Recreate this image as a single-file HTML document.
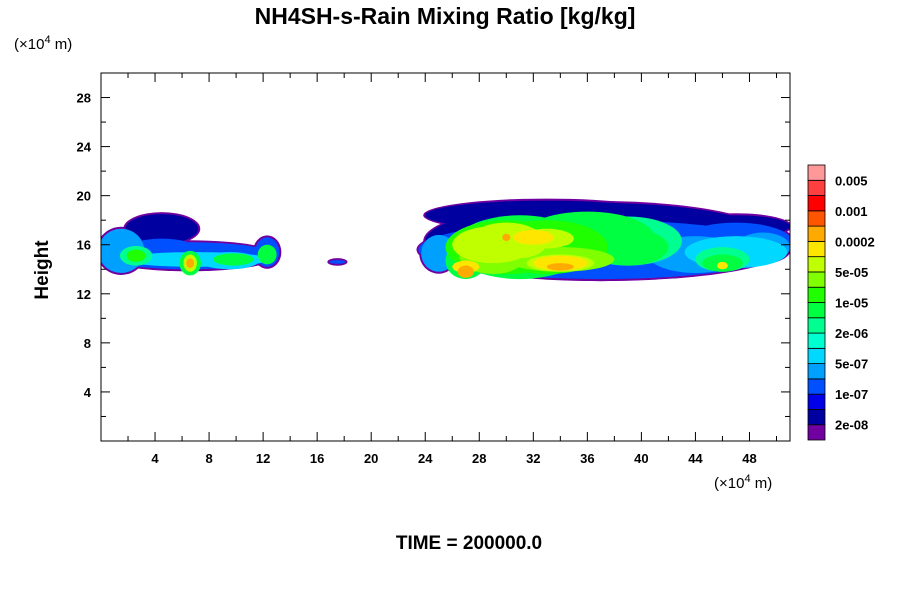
<!DOCTYPE html>
<html><head><meta charset="utf-8"><style>
body{margin:0;background:#fff;}
svg{display:block;font-family:"Liberation Sans",sans-serif;}
</style></head><body>
<svg id="c" width="900" height="600" viewBox="0 0 900 600">
<text x="445" y="24" text-anchor="middle" font-size="23" font-weight="bold">NH4SH-s-Rain Mixing Ratio [kg/kg]</text>
<text x="14" y="49" font-size="15">(×10<tspan dy="-6" font-size="11">4</tspan><tspan dy="6"> m)</tspan></text>
<text x="714" y="488" font-size="15">(×10<tspan dy="-6" font-size="11">4</tspan><tspan dy="6"> m)</tspan></text>
<text x="48" y="270" font-size="19" font-weight="bold" text-anchor="middle" transform="rotate(-90 48 270)">Height</text>
<text x="469" y="549" font-size="19" font-weight="bold" text-anchor="middle">TIME = 200000.0</text>
<g id="field"></g>
<g id="axes"></g>
<g id="cbar"></g>
</svg>
<script>
const xTicks=[4,8,12,16,20,24,28,32,36,40,44,48];
const yTicks=[4,8,12,16,20,24,28];
const levelColors=["#7000a0","#0000a0","#0000e8","#0050ff","#00a0ff","#00d8ff","#00ffd0","#00ff90","#00ff40","#20ff00","#80ff00","#c0ff00","#ffe600","#ffaa00","#ff5500","#ff0000","#ff4040","#ff9999"];
const cbarLabels=["0.005","0.001","0.0002","5e-05","1e-05","2e-06","5e-07","1e-07","2e-08"];
// blobs: x center, y center, x half-width, y half-height, level index
const blobX=[1.5,4.5,4.5,2.6,2.6,6.6,6.6,6.6,9.5,9.8,12.3,12.3,17.5,6.5,7,
 37,37,33,47,47,25,27,31,36,39,44,47,49, 30,33,29,34,39,46,
 29,31,34,46, 30,34,27,33,31,
 32,27,34,30,46];
const blobY=[15.5,17.3,15.3,15.1,15.1,14.5,14.5,14.5,14.7,14.8,15.4,15.2,14.6,15.1,14.8,
 16.3,15.6,18.4,16.2,17.5,15.3,14.7,15.8,16.5,16.3,15.2,15.4,15.8, 15.8,15.8,15.2,14.8,15.8,14.8,
 16,16.2,14.5,14.5, 16.6,14.5,14.2,16.5,15.2,
 16.6,13.8,14.2,16.6,14.3];
const blobW=[1.7,2.7,3,1.2,0.7,0.8,0.5,0.3,2.2,1.5,0.9,0.7,0.6,6.5,5.5,
 13,13.5,9,4.2,4,1.3,1.5,5,5,4,3.5,3.8,2, 4.5,4.5,2.5,4,3,2,
 3,2,2.5,1.5, 2.5,2,1,2,1.5,
 1.5,0.6,1,0.3,0.4];
const blobH=[1.8,1.2,1.2,0.8,0.5,1.0,0.7,0.4,0.7,0.5,1.2,0.8,0.15,1.1,0.6,
 3.1,2.4,1.2,1.6,0.9,1.5,1.5,2.6,2.2,2,1.5,1.3,1.2, 2.2,2.2,1.6,1,1.5,1,
 1.5,1.3,0.7,0.7, 1.2,0.6,0.5,0.8,0.8,
 0.6,0.5,0.3,0.3,0.3];
const blobL=[4,1,3,7,9,8,11,13,5,8,3,8,3,3,5,
 1,3,1,3,1,4,8,8,8,7,4,5,4, 9,9,10,10,8,7,
 11,11,11,8, 11,12,12,11,10,
 12,13,13,13,12];
const X0=101,X1=790,Y0=441,Y1=73,xmax=51,ymax=30;
const sx=v=>X0+(v/xmax)*(X1-X0), sy=v=>Y0-(v/ymax)*(Y0-Y1);
const NS="http://www.w3.org/2000/svg";
function mk(t,a,p){const e=document.createElementNS(NS,t);for(const k in a)e.setAttribute(k,a[k]);p.appendChild(e);return e;}
const field=document.getElementById('field');
const idx=blobL.map((l,i)=>i).sort((a,b)=>blobL[a]-blobL[b]);
idx.forEach(i=>{if(blobL[i]<=4){const e=mk('ellipse',{cx:sx(blobX[i]),cy:sy(blobY[i]),rx:(sx(blobW[i])-sx(0))+2,ry:(sy(0)-sy(blobH[i]))+2,fill:levelColors[0]},field);

}});
idx.forEach(i=>{const e=mk('ellipse',{cx:sx(blobX[i]),cy:sy(blobY[i]),rx:sx(blobW[i])-sx(0),ry:sy(0)-sy(blobH[i]),fill:levelColors[blobL[i]]},field);

});
const cp=mk('clipPath',{id:'pc'},document.getElementById('c'));mk('rect',{x:X0,y:Y1,width:X1-X0,height:Y0-Y1},cp);
field.setAttribute('clip-path','url(#pc)');
const ax=document.getElementById('axes');
const fr=mk('rect',{x:X0,y:Y1,width:X1-X0,height:Y0-Y1,fill:'none',stroke:'#000','stroke-width':1},ax);


for(let v=2;v<xmax;v+=2){const len=v%4==0?9:5;mk('line',{x1:sx(v),x2:sx(v),y1:Y0,y2:Y0-len,stroke:'#000'},ax);mk('line',{x1:sx(v),x2:sx(v),y1:Y1,y2:Y1+len,stroke:'#000'},ax);}
for(let v=2;v<ymax;v+=2){const len=v%4==0?9:5;mk('line',{x1:X0,x2:X0+len,y1:sy(v),y2:sy(v),stroke:'#000'},ax);mk('line',{x1:X1,x2:X1-len,y1:sy(v),y2:sy(v),stroke:'#000'},ax);}
xTicks.forEach(v=>{const t=mk('text',{x:sx(v),y:Y0+22,'text-anchor':'middle','font-size':13,'font-weight':'bold'},ax);t.textContent=v;

});
yTicks.forEach(v=>{const t=mk('text',{x:X0-10,y:sy(v)+5,'text-anchor':'end','font-size':13,'font-weight':'bold'},ax);t.textContent=v;

});
const cb=document.getElementById('cbar');const cbT=165,cbB=440,bh=(cbB-cbT)/levelColors.length;
levelColors.forEach((c,i)=>{const r=mk('rect',{x:808,y:cbB-(i+1)*bh,width:17,height:bh,fill:c,stroke:'#000','stroke-width':0.8},cb);

});
cbarLabels.forEach((s,i)=>{const t=mk('text',{x:835,y:cbT+bh*(1+2*i)+5,'font-size':13,'font-weight':'bold'},cb);t.textContent=s;

});
</script>
</body></html>
